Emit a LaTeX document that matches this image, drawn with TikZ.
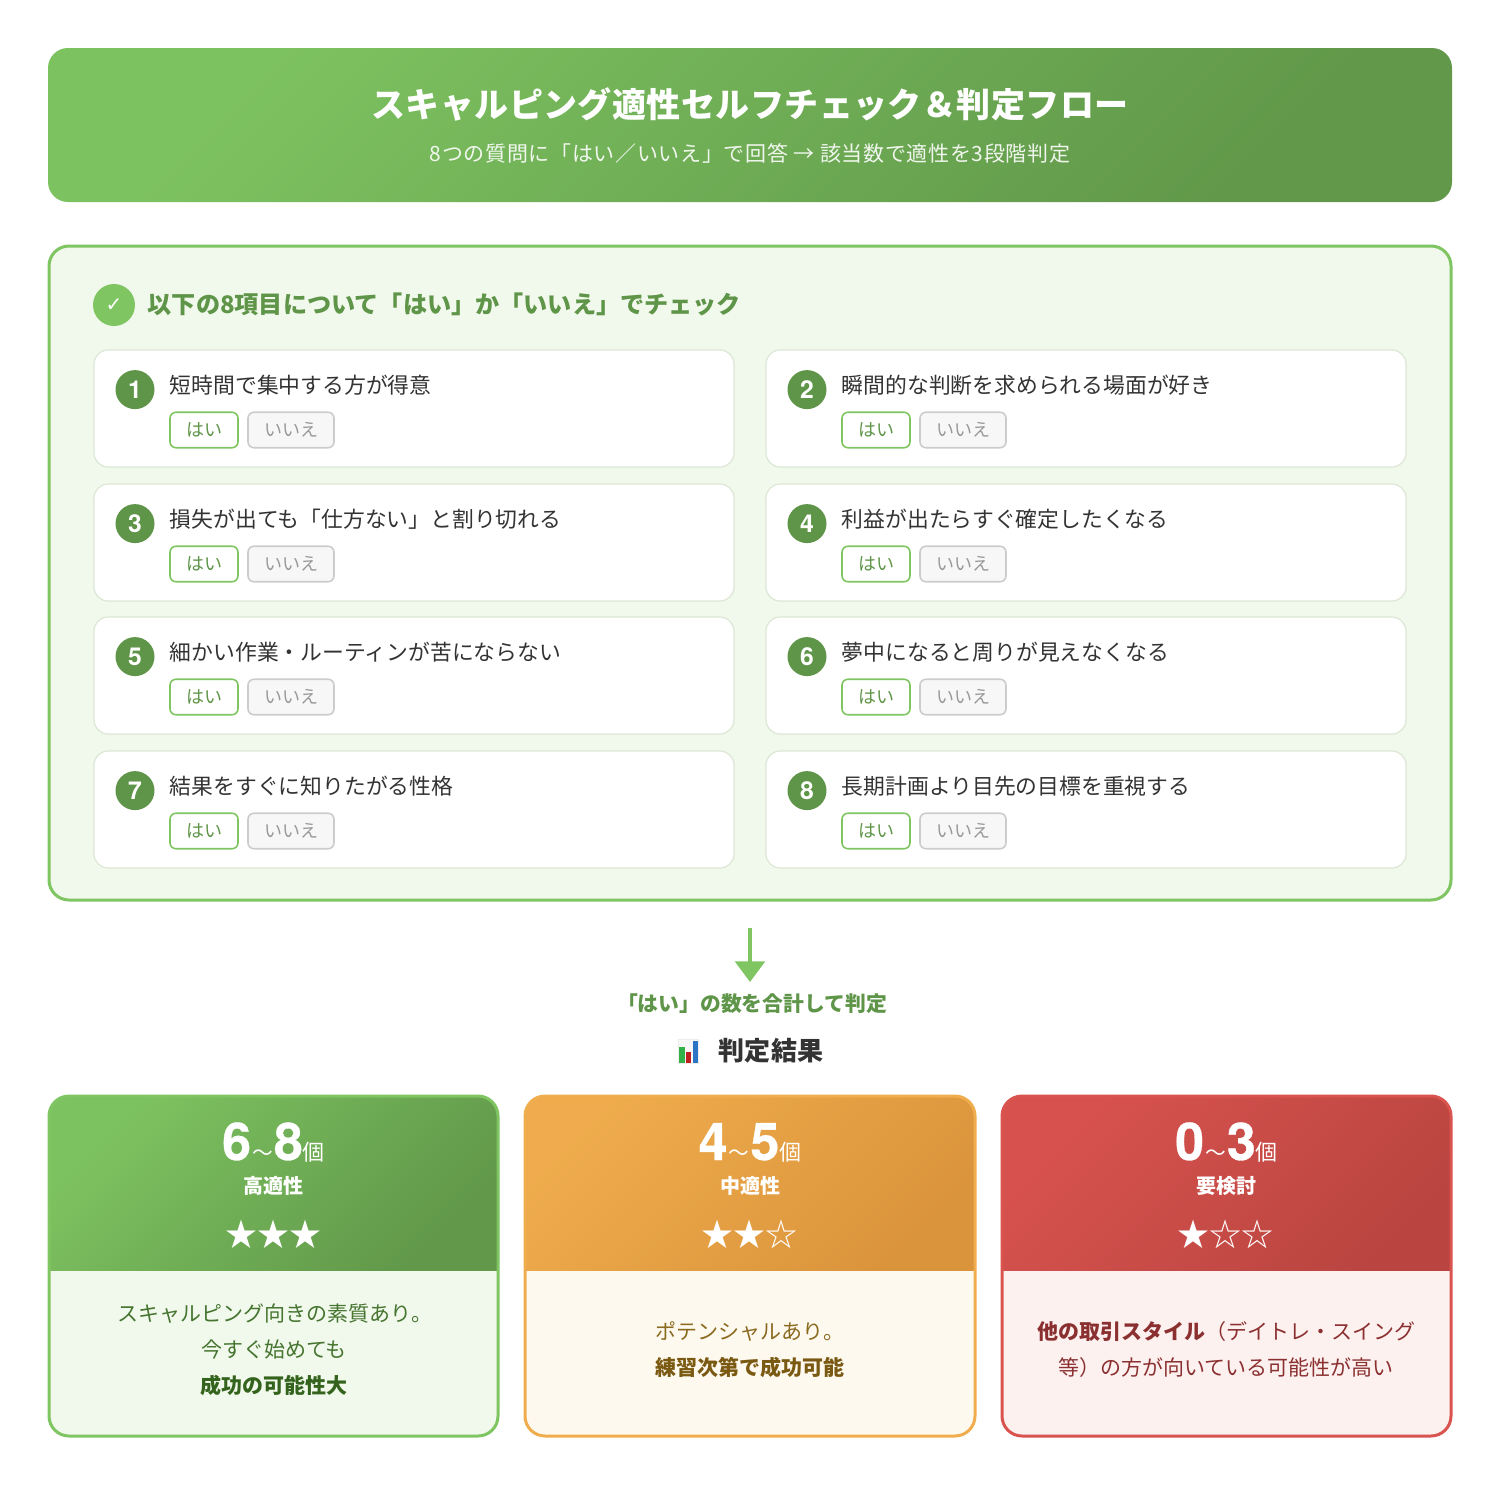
\documentclass[tikz,border=0pt]{standalone}
\usepackage{fontspec}
\setmainfont{Noto Sans CJK JP}
\newfontfamily\numfont{TeX Gyre Heros}
\newfontfamily\symfont{DejaVu Sans}
\usetikzlibrary{arrows.meta}
\definecolor{grA}{HTML}{7FC562}
\definecolor{grB}{HTML}{5F9548}
\definecolor{grBody}{HTML}{F1F8EC}
\definecolor{orA}{HTML}{F0AD4E}
\definecolor{orB}{HTML}{D9923A}
\definecolor{orBody}{HTML}{FEF9EF}
\definecolor{rdA}{HTML}{D9534F}
\definecolor{rdB}{HTML}{B8443F}
\definecolor{rdBody}{HTML}{FDF1F0}
\definecolor{ink}{HTML}{333333}
\definecolor{cardline}{HTML}{DCE7D5}
\definecolor{grText}{HTML}{467530}
\definecolor{grDark}{HTML}{33631C}
\definecolor{orText}{HTML}{8A6A1F}
\definecolor{orDark}{HTML}{7A5A12}
\definecolor{rdText}{HTML}{8B3030}
\definecolor{rdDark}{HTML}{7C2626}
\definecolor{barG}{HTML}{33B24A}
\definecolor{barR}{HTML}{C0201F}
\definecolor{barB}{HTML}{2E74C4}
\def\pxu{0.75pt}
\tikzset{
  jp/.style={font=\fontsize{#1}{#1}\selectfont,text height=#1*0.88pt,text depth=#1*0.12pt,inner sep=0pt},
  jpb/.style={jp=#1,font=\fontsize{#1}{#1}\selectfont\bfseries},
  card/.style={draw=cardline,line width=0.9pt,fill=white,rounded corners=10.5pt,minimum width=640*\pxu,minimum height=117*\pxu,inner sep=0pt},
  numdot/.style={circle,fill=grB,minimum size=39*\pxu,inner sep=0pt,text=white,font=\fontsize{18.5}{18.5}\selectfont\numfont\bfseries},
  btn/.style={rounded corners=4.5pt,minimum height=35.5*\pxu,jp=13.5},
  yesbtn/.style={btn,draw=grA,line width=1.2pt,fill=white,text=grB,minimum width=68*\pxu},
  nobtn/.style={btn,draw=black!20,line width=1.2pt,fill=black!3,text=black!40,minimum width=86*\pxu},
  result/.style={draw=#1,line width=2.25pt,rounded corners=15pt,minimum height=340*\pxu,inner sep=0pt},
}
\begin{document}
\begin{tikzpicture}[x=0.75pt,y=-0.75pt]
    \useasboundingbox (0,0) rectangle (1500,1485);
    \fill[white] (0,0) rectangle (1500,1485);

    % header
    \node[rounded corners=15pt,minimum width=1404*\pxu,minimum height=154*\pxu,inner sep=0pt,
          top color=grA!94!grB,bottom color=grB!94!grA,shading angle=45] (headbar) at (750,125) {};
    \node[jpb=25.5,text=white] (headtitle) at (750,105) {\addfontfeature{LetterSpace=1.3}スキャルピング適性セルフチェック＆判定フロー};
    \node[jp=15.75,text=white,opacity=.9] (headsub) at (750,153.5) {\addfontfeature{LetterSpace=3.2}8つの質問に「はい／いいえ」で回答 → 該当数で適性を3段階判定};

    % panel
    \node[draw=grA,line width=2.25pt,fill=grBody,rounded corners=15pt,minimum width=1402*\pxu,minimum height=654*\pxu,inner sep=0pt] (panel) at (750,573) {};
    \node[circle,minimum size=42*\pxu,inner sep=0pt,fill=grA,text=white,font=\fontsize{15}{15}\selectfont\symfont] (checkdot) at (114,305) {✓};
    \node[jpb=18.1,text=grB,anchor=west] (paneltitle) at (147.5,304) {以下の8項目について「はい」か「いいえ」でチェック};

    % questions
    \foreach \i/\cx/\cy/\txt in {
        1/94/350/短時間で集中する方が得意,
        2/766/350/瞬間的な判断を求められる場面が好き,
        3/94/484/損失が出ても「仕方ない」と割り切れる,
        4/766/484/利益が出たらすぐ確定したくなる,
        5/94/617/細かい作業・ルーティンが苦にならない,
        6/766/617/夢中になると周りが見えなくなる,
        7/94/751/結果をすぐに知りたがる性格,
        8/766/751/長期計画より目先の目標を重視する}{
        \node[card] (card\i) at (\cx+320,\cy+58.5) {};
        \node[numdot] (num\i) at (\cx+41,\cy+39.6) {\i};
        \node[jp=16.35,text=ink,anchor=west] (ask\i) at (\cx+75.7,\cy+35.2) {\txt};
        \node[yesbtn] (yes\i) at (\cx+110,\cy+80) {はい};
        \node[nobtn] (no\i) at (\cx+197,\cy+80) {いいえ};
    }

    % arrow
    \coordinate (arrowtop) at (750,928);
    \coordinate (arrowtip) at (750,982);
    \draw[grA,line width=3.4pt,-{Triangle[width=22pt,length=15.5pt]}] (arrowtop)--(arrowtip);
    \node[jpb=15.6,text=grB] (sumnote) at (752,1003.5) {「はい」の数を合計して判定};

    % chart icon
    \fill[black!7] (678,1038.5) rectangle (699,1063.5);
    \fill[black!3] (679,1039.5) rectangle (698,1063);
    \fill[barG] (679,1047) rectangle (685,1063);
    \fill[barR] (686,1052) rectangle (691,1063);
    \fill[barB] (693,1041) rectangle (698,1063);
    \node[jpb=19.5,text=ink,anchor=west] (resulttitle) at (718,1051) {\addfontfeature{LetterSpace=2}判定結果};

    % results
    \foreach \j/\xa/\xb/\ca/\cb/\cc/\low/\lbl/\str in {
        1/49/498/grA/grB/grBody/6/8/高適性,
        2/525/975/orA/orB/orBody/4/5/中適性,
        3/1002/1451/rdA/rdB/rdBody/0/3/要検討}{
        \fill[\cc,rounded corners=15pt] (\xa,1096) rectangle (\xb,1436);
        \begin{scope}
            \clip[rounded corners=15pt] (\xa,1096) rectangle (\xb,1436);
            \shade[top color=\ca!94!\cb,bottom color=\cb!94!\ca,shading angle=45] (\xa,1096) rectangle (\xb,1270);
        \end{scope}
        \node[result=\ca,minimum width={(\xb-\xa)*\pxu}] (res\j) at ({(\xa+\xb)/2},1266) {};
        \node[text=white,inner sep=0pt,anchor=base] (count\j) at ({(\xa+\xb)/2},1160) {\fontsize{39}{39}\selectfont\numfont\bfseries\addfontfeature{FakeBold=0.6} \low\kern.8pt\fontsize{15.5}{15.5}\selectfont\mdseries\rmfamily 〜\kern.8pt\fontsize{39}{39}\selectfont\numfont\bfseries\addfontfeature{FakeBold=0.6} \lbl\fontsize{16.5}{16.5}\selectfont\mdseries\rmfamily 個};
        \node[jpb=15,text=white] (grade\j) at ({(\xa+\xb)/2},1185.5) {\str};
    }
    \node[jp=24,text=white] (stars1) at (273,1234) {★★★};
    \node[jp=24,text=white] (stars2) at (749,1234) {★★☆};
    \node[jp=24,text=white] (stars3) at (1225,1234) {★☆☆};

    \node[jp=15.75,text=grText] (msg1a) at (275,1314) {スキャルピング向きの素質あり。};
    \node[jp=15.75,text=grText] (msg1b) at (274,1350) {今すぐ始めても};
    \node[jpb=15.75,text=grDark] (msg1c) at (274,1386) {成功の可能性大};

    \node[jp=15.75,text=orText] (msg2a) at (750,1332) {ポテンシャルあり。};
    \node[jpb=15.75,text=orDark] (msg2b) at (750,1368) {練習次第で成功可能};

    \node[jp=15.75,text=rdText] (msg3a) at (1226,1332) {\textbf{他の取引スタイル}（デイトレ・スイング};
    \node[jp=15.75,text=rdText] (msg3b) at (1226,1368) {等）の方が向いている可能性が高い};
\end{tikzpicture}
\end{document}
